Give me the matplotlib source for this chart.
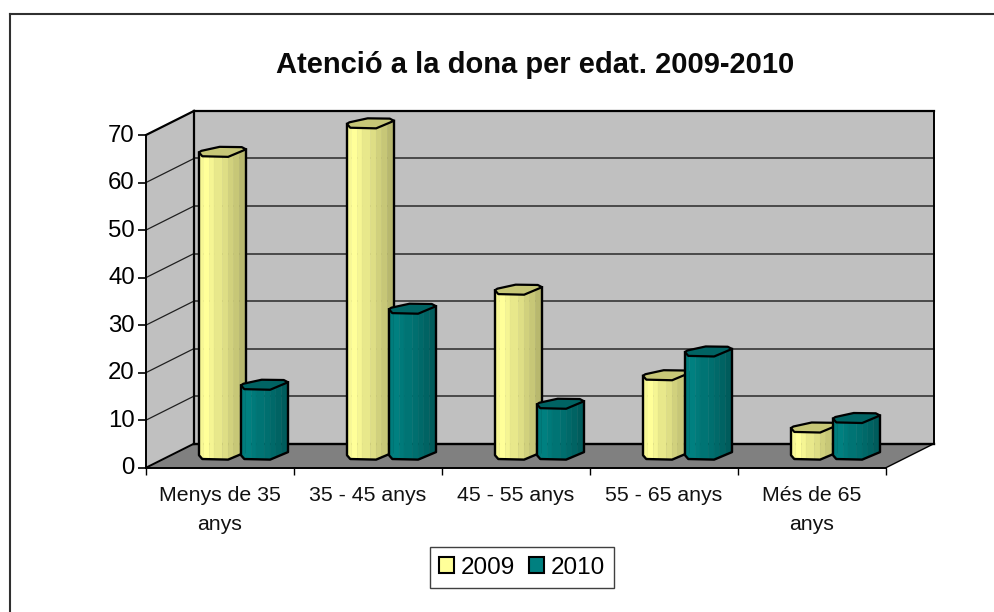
import matplotlib
matplotlib.use('Agg')
import matplotlib.pyplot as plt
from matplotlib.lines import Line2D
from matplotlib.patches import Patch, Polygon
from matplotlib.transforms import ScaledTranslation

plt.rcParams['font.family'] = ['Liberation Sans', 'DejaVu Sans']

categories = ['Menys de 35\nanys', '35 - 45 anys', '45 - 55 anys', '55 - 65 anys', 'Més de 65\nanys']
values_2009 = [64, 70, 35, 17, 6]
values_2010 = [15, 31, 11, 22, 8]
y_ticks = [0, 10, 20, 30, 40, 50, 60, 70]

W, H = 994, 612
DEPTH_X = 48 / 148   # depth of the box, in category units
DEPTH_Y = 5.06       # same thing in value units
BAR_W = 47 / 148
BAR_BASE = 1.7
TOP_SHIFT = 1.4
YELLOW = (1.0, 1.0, 0.6)
TEAL = (0.0, 0.5, 0.5)

# outline of the "cylinder" cross section, fractions of width / depth
FRONT = [(0.0, 0.44), (0.07, 0.06), (0.62, 0.0), (1.0, 0.75)]
BACK = [(0.91, 0.97), (0.44, 1.0), (0.05, 0.6)]
# strips across the bar: right end of strip, brightness
STRIPS = [(0.10, 0.97), (0.22, 1.0), (0.32, 0.96), (0.50, 0.91), (0.62, 0.87), (0.74, 0.82), (0.86, 0.78), (1.0, 0.72)]


def shade(color, k):
    return tuple(c * k for c in color)


def front_y(u):
    # value offset of the front edge at fraction u of the bar width
    for (u0, v0), (u1, v1) in zip(FRONT, FRONT[1:]):
        if u <= u1:
            return v0 + (v1 - v0) * (u - u0) / (u1 - u0)
    return FRONT[-1][1]


def draw_bar(ax, left, value, color, z):
    depth = 10 / 4.74
    sx = lambda u: left + BAR_W * u
    bottom = lambda v: BAR_BASE + depth * v
    top = lambda v: value + TOP_SHIFT + depth * v
    u0 = 0.0
    for u1, k in STRIPS:
        knots = [u0] + [f[0] for f in FRONT if u0 < f[0] < u1] + [u1]
        xs = [sx(u) for u in knots]
        lo = [bottom(front_y(u)) for u in knots]
        hi = [top(front_y(u)) for u in knots]
        pts = list(zip(xs, lo)) + list(zip(xs[::-1], hi[::-1]))
        ax.add_patch(Polygon(pts, closed=True, fc=shade(color, k), ec=shade(color, k),
                             lw=0.3, clip_on=False, zorder=z))
        u0 = u1
    # top face
    face = [(sx(u), top(v)) for u, v in FRONT + BACK]
    ax.add_patch(Polygon(face, closed=True, fc=shade(color, 0.78), ec='black', lw=1.6,
                         joinstyle='round', clip_on=False, zorder=z + 0.2))
    # outline of the body
    outline = [(sx(0), top(FRONT[0][1]))] + [(sx(u), bottom(v)) for u, v in FRONT] + [(sx(1), top(FRONT[-1][1]))]
    ax.plot(*zip(*outline), color='black', lw=1.7, clip_on=False, zorder=z + 0.1,
            solid_joinstyle='round')


fig = plt.figure(figsize=(W / 100, H / 100), dpi=100)
ax = fig.add_axes([146 / W, 1 - 467.7 / H, 740 / W, (467.7 - 135) / H])
ax.set_xlim(0, len(categories))
ax.set_ylim(0, 70)
ax.set_facecolor('none')

top_y = y_ticks[-1]
n = len(categories)
# side wall, back wall, floor
ax.add_patch(Polygon([(0, 0), (DEPTH_X, DEPTH_Y), (DEPTH_X, top_y + DEPTH_Y), (0, top_y)],
                     fc='#c0c0c0', ec='none', clip_on=False, zorder=1))
ax.add_patch(Polygon([(DEPTH_X, DEPTH_Y), (n + DEPTH_X, DEPTH_Y), (n + DEPTH_X, top_y + DEPTH_Y), (DEPTH_X, top_y + DEPTH_Y)],
                     fc='#c0c0c0', ec='none', clip_on=False, zorder=1))
ax.add_patch(Polygon([(0, 0), (n, 0), (n + DEPTH_X, DEPTH_Y), (DEPTH_X, DEPTH_Y)],
                     fc='#808080', ec='none', clip_on=False, zorder=1))

for t in y_ticks[1:-1]:
    ax.plot([0, DEPTH_X], [t, t + DEPTH_Y], color='#202020', lw=0.9, clip_on=False, zorder=2)
    ax.plot([DEPTH_X, n + DEPTH_X], [t + DEPTH_Y, t + DEPTH_Y], color='#404040', lw=1.3, clip_on=False, zorder=2)

box_lines = [
    ([0, DEPTH_X], [top_y, top_y + DEPTH_Y], 1.6),
    ([DEPTH_X, n + DEPTH_X], [top_y + DEPTH_Y, top_y + DEPTH_Y], 1.6),
    ([n + DEPTH_X, n + DEPTH_X], [top_y + DEPTH_Y, DEPTH_Y], 1.4),
    ([DEPTH_X, DEPTH_X], [top_y + DEPTH_Y, DEPTH_Y], 1.6),
    ([DEPTH_X, n + DEPTH_X], [DEPTH_Y, DEPTH_Y], 1.7),
    ([0, DEPTH_X], [0, DEPTH_Y], 1.4),
    ([n, n + DEPTH_X], [0, DEPTH_Y], 1.0),
]
for xs, ys, lw in box_lines:
    ax.plot(xs, ys, color='black', lw=lw, clip_on=False, zorder=2.5)

for i, (a, b) in enumerate(zip(values_2009, values_2010)):
    draw_bar(ax, i + 53 / 148, a, YELLOW, 3 + i)
    draw_bar(ax, i + 95 / 148, b, TEAL, 3.5 + i)

for s in ['top', 'right']:
    ax.spines[s].set_visible(False)
for s in ['left', 'bottom']:
    ax.spines[s].set_linewidth(1.4)
ax.set_yticks(y_ticks)
ax.set_xticks(range(n + 1))
ax.set_xticklabels([''] * (n + 1))
ax.set_xticks([i + 0.5 for i in range(n)], minor=True)
ax.set_xticklabels(categories, minor=True, fontsize=15.3, linespacing=1.7, color='#111111')
ax.tick_params(axis='x', which='minor', length=0, pad=13)
ax.tick_params(axis='x', which='major', length=5, width=1.0)
ax.tick_params(axis='y', length=6, width=1.2, labelsize=17.3, pad=2)
# the value labels sit a little above their ticks
for lbl in ax.get_yticklabels():
    lbl.set_transform(lbl.get_transform() + ScaledTranslation(0, 2 / 100, fig.dpi_scale_trans))

fig.text(535 / W, 1 - 65 / H, 'Atenció a la dona per edat. 2009-2010', fontsize=21, fontweight='bold',
         ha='center', va='center', color='#0a0a0a')

handles = [Patch(fc=YELLOW, ec='black', lw=1.5, label='2009'),
           Patch(fc=TEAL, ec='black', lw=1.5, label='2010')]
leg = fig.legend(handles=handles, loc='center', bbox_to_anchor=(522 / W, 1 - 567.5 / H), ncol=2, fontsize=17.5,
                 frameon=True, fancybox=False, edgecolor='#404040', framealpha=1,
                 handlelength=0.62, handleheight=0.62, handletextpad=0.25, columnspacing=0.6,
                 borderpad=0.4, borderaxespad=0)
leg.get_frame().set_linewidth(1.0)

# chart area border, cut off by the image on the right and at the bottom
for xs, ys in [([9.5, W], [14, 14]), ([9.5, 9.5], [14, H])]:
    fig.add_artist(Line2D([x / W for x in xs], [1 - y / H for y in ys], color='#303030', lw=1.5))

fig.savefig('out.png', dpi=100)
